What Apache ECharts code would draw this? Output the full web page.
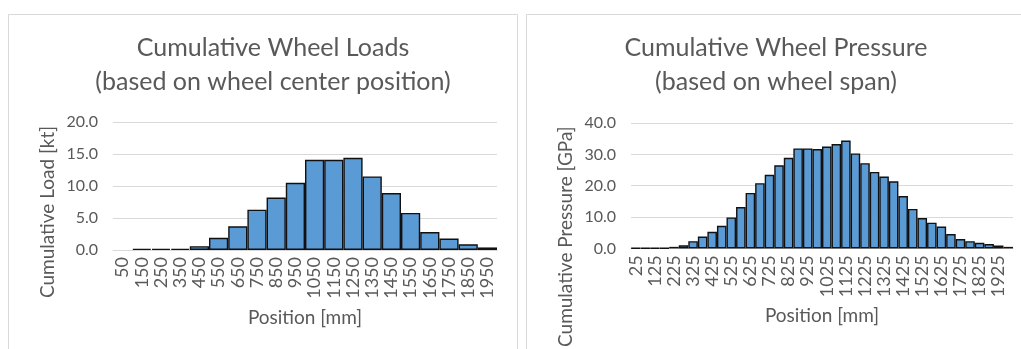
<!DOCTYPE html>
<html>
<head>
<meta charset="utf-8">
<script src="https://cdn.jsdelivr.net/npm/echarts@6/dist/echarts.min.js"></script>
<style>
html,body{margin:0;padding:0;background:#fff;}
#c{width:1021px;height:349px;}
</style>
</head>
<body>
<div id="c"></div>
<script>
// Left chart: cumulative wheel loads (kt) by wheel centre position (mm)
const loadPositions = ['50','150','250','350','450','550','650','750','850','950','1050','1150','1250','1350','1450','1550','1650','1750','1850','1950'];
const loadValues = [0, 0.2, 0.2, 0.2, 0.6, 1.9, 3.7, 6.3, 8.2, 10.5, 14.1, 14.1, 14.4, 11.5, 8.9, 5.8, 2.8, 1.8, 0.9, 0.4];

// Right chart: cumulative wheel pressure (GPa) by wheel span position (mm)
const pressurePositions = ['25','75','125','175','225','275','325','375','425','475','525','575','625','675','725','775','825','875','925','975',
  '1025','1075','1125','1175','1225','1275','1325','1375','1425','1475','1525','1575','1625','1675','1725','1775','1825','1875','1925','1975'];
const pressureValues = [0.1, 0.1, 0.1, 0.1, 0.5, 1.0, 2.3, 3.8, 5.3, 7.2, 9.9, 13.2, 17.7, 20.8, 23.5, 26.5, 28.9, 31.9, 31.9, 31.7,
  32.5, 33.3, 34.4, 30.3, 27.2, 24.4, 22.9, 21.4, 16.7, 12.6, 9.7, 8.2, 7.0, 4.6, 3.0, 2.3, 1.8, 1.4, 0.9, 0.5];

const loadTicks = [0, 20, 5];      // min, max, interval
const pressureTicks = [0, 40, 10];

const FONT = 'Lato';
const GREY = '#595959';
const LIGHT = '#d9d9d9';

const chart = echarts.init(document.getElementById('c'), null, {renderer: 'canvas'});

function xAxis(idx, data, interval) {
  return {
    type: 'category', gridIndex: idx, data: data,
    name: 'Position [mm]', nameLocation: 'middle', nameGap: 58,
    nameTextStyle: {color: GREY, fontFamily: FONT, fontSize: 19},
    axisLine: {show: true, lineStyle: {color: LIGHT, width: 1}},
    axisTick: {show: false},
    axisLabel: {rotate: 90, interval: interval, color: GREY, fontFamily: FONT, fontSize: 18, margin: 7},
    splitLine: {show: false}
  };
}
function yAxis(idx, ticks, name, shift) {
  return {
    type: 'value', gridIndex: idx, min: ticks[0], max: ticks[1], interval: ticks[2],
    name: name, nameLocation: 'middle', nameGap: 56, nameRotate: 90,
    nameTextStyle: {color: GREY, fontFamily: FONT, fontSize: 19, padding: [0, shift, 0, 0]},
    axisLine: {show: false}, axisTick: {show: false},
    axisLabel: {color: GREY, fontFamily: FONT, fontSize: 16, margin: 15, formatter: v => v.toFixed(1)},
    splitLine: {show: true, lineStyle: {color: LIGHT, width: 1}}
  };
}
const barStyle = {color: '#5B9BD5', borderColor: '#111', borderWidth: 1.4};
// zero-valued bars are not outlined
const asBars = vals => vals.map(v => v === 0 ? {value: v, itemStyle: {borderWidth: 0}} : v);

chart.setOption({
  animation: false,
  backgroundColor: '#fff',
  graphic: [
    {type: 'rect', shape: {x: 8.5, y: 14.5, width: 509, height: 400}, style: {fill: 'none', stroke: LIGHT, lineWidth: 1}, silent: true},
    {type: 'rect', shape: {x: 526.5, y: 14.5, width: 520, height: 400}, style: {fill: 'none', stroke: LIGHT, lineWidth: 1}, silent: true}
  ],
  title: [
    {text: 'Cumulative Wheel Loads\n(based on wheel center position)', left: 268, top: 26, textAlign: 'center',
     textStyle: {color: GREY, fontFamily: FONT, fontSize: 25, fontWeight: 'normal', lineHeight: 34}},
    {text: 'Cumulative Wheel Pressure\n(based on wheel span)', left: 771, top: 26, textAlign: 'center',
     textStyle: {color: GREY, fontFamily: FONT, fontSize: 25, fontWeight: 'normal', lineHeight: 34}}
  ],
  grid: [
    {left: 113, top: 122, width: 384, height: 128},
    {left: 631, top: 123, width: 382, height: 127}
  ],
  xAxis: [xAxis(0, loadPositions, 0), xAxis(1, pressurePositions, 1)],
  yAxis: [yAxis(0, loadTicks, 'Cumulative Load [kt]', 52), yAxis(1, pressureTicks, 'Cumulative Pressure [GPa]', 102)],
  series: [
    {type: 'bar', xAxisIndex: 0, yAxisIndex: 0, data: asBars(loadValues), barCategoryGap: '0%', itemStyle: barStyle},
    {type: 'bar', xAxisIndex: 1, yAxisIndex: 1, data: asBars(pressureValues), barCategoryGap: '0%', itemStyle: barStyle}
  ]
});
</script>
</body>
</html>
